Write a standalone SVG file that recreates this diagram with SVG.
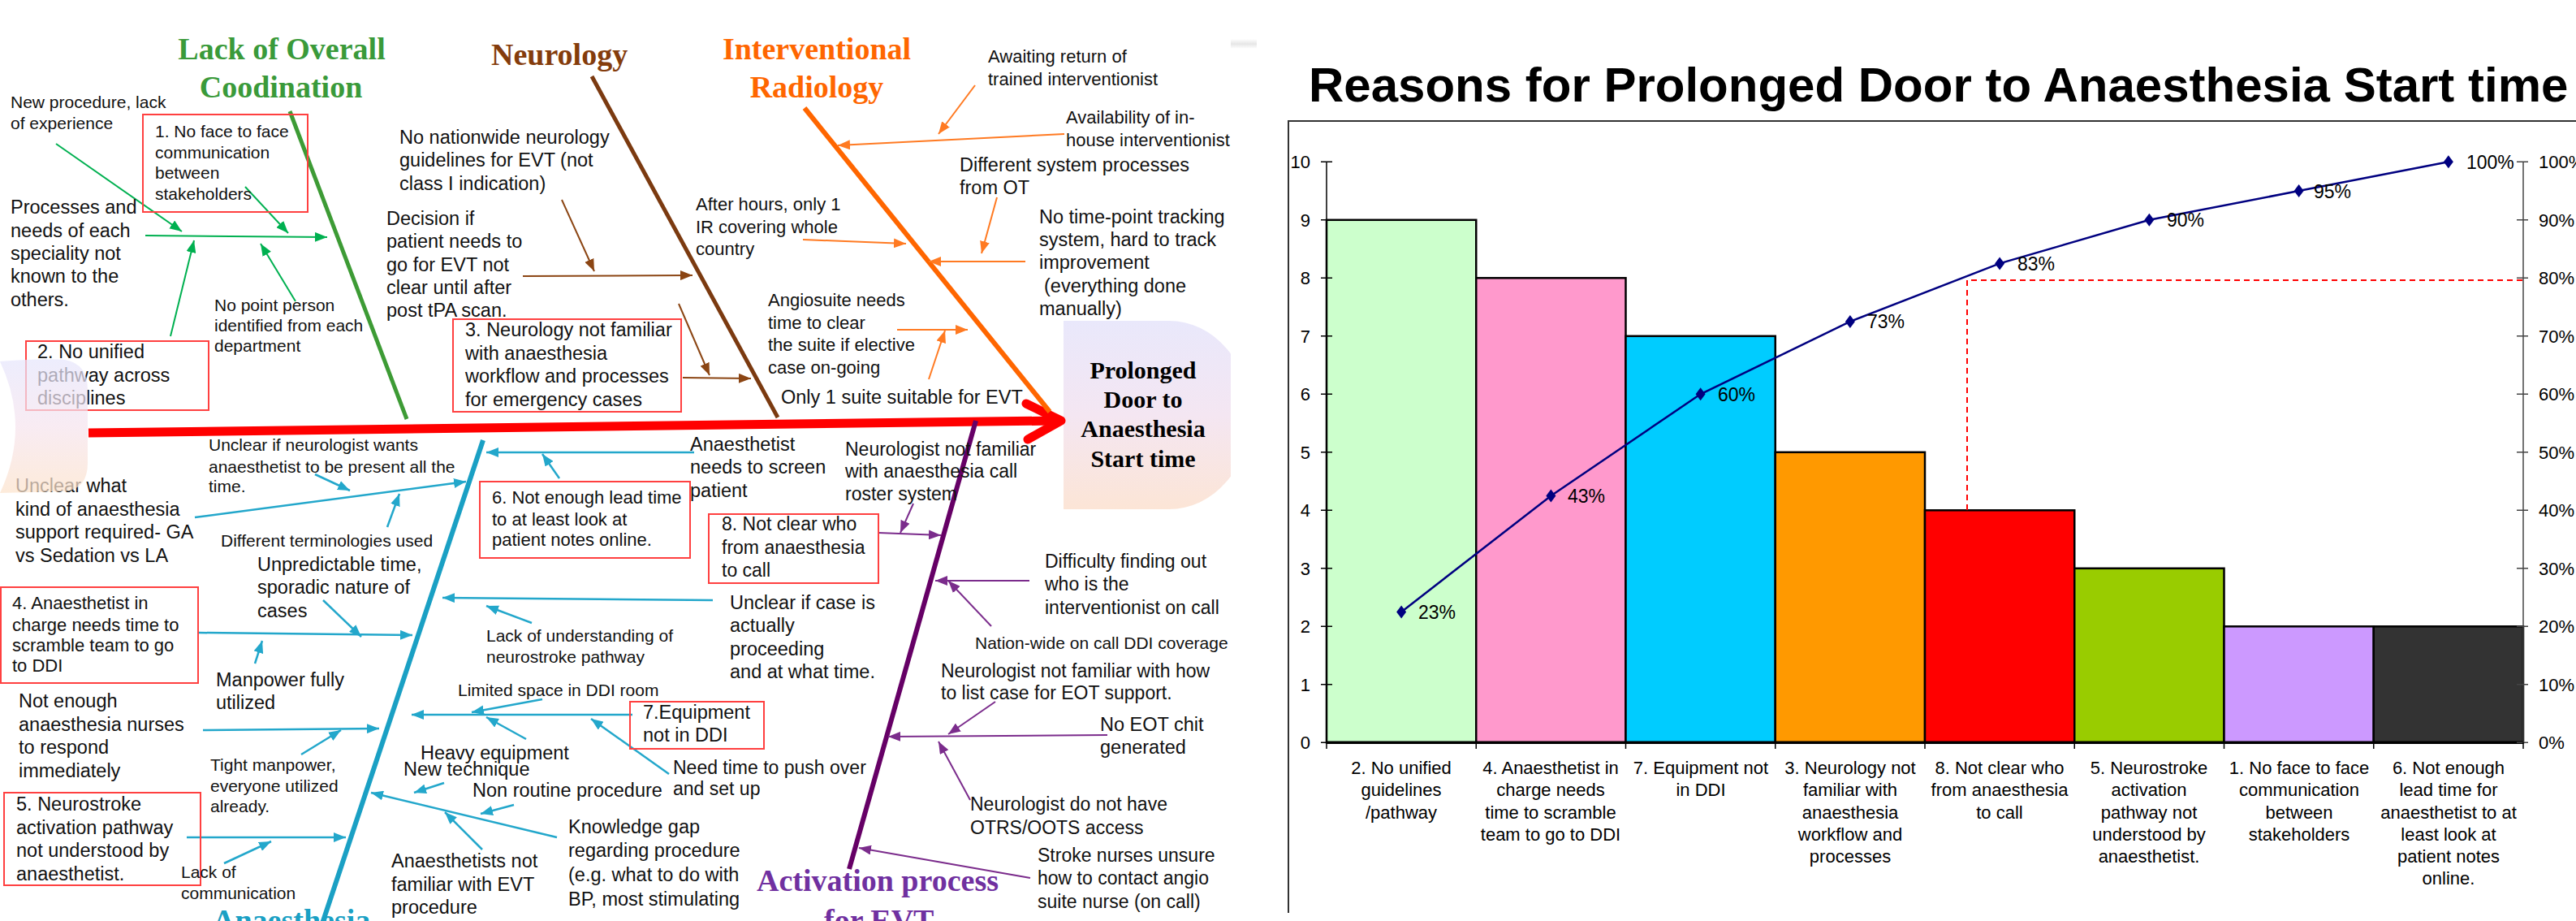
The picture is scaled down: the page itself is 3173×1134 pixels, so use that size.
<svg xmlns="http://www.w3.org/2000/svg" width="3173" height="1134" viewBox="0 0 3173 1134">
<style>
text{font-family:"Liberation Sans",Arial,sans-serif;fill:#111}
.s21{font-size:21px}.s22{font-size:22px}.s23{font-size:23px}.s24{font-size:23.5px}
.ttl{font-family:"Liberation Serif","Times New Roman",serif;font-weight:bold;font-size:38px}
.head{font-family:"Liberation Serif","Times New Roman",serif;font-weight:bold;font-size:30px;fill:#000;text-anchor:middle}
.box{fill:none;stroke:#FF4040;stroke-width:2}
.ag{stroke:#00B050;stroke-width:2;fill:none;marker-end:url(#mg)}
.ab{stroke:#8B4513;stroke-width:2;fill:none;marker-end:url(#mb)}
.ao{stroke:#FF7A22;stroke-width:2;fill:none;marker-end:url(#mo)}
.ac{stroke:#23A7CB;stroke-width:2.5;fill:none;marker-end:url(#mc)}
.ap{stroke:#7B2C8C;stroke-width:2;fill:none;marker-end:url(#mp)}
.bar{stroke:#000;stroke-width:2.5}
.ax{font-size:22px;fill:#000}
.cat{font-size:22px;fill:#000;text-anchor:middle}
.dl{font-size:23px;fill:#000}
</style>
<defs>
<marker id="mg" markerUnits="userSpaceOnUse" markerWidth="16" markerHeight="12" refX="15" refY="6" orient="auto"><path d="M0,0 L15,6 L0,12 Z" fill="#00B050"/></marker>
<marker id="mb" markerUnits="userSpaceOnUse" markerWidth="16" markerHeight="12" refX="15" refY="6" orient="auto"><path d="M0,0 L15,6 L0,12 Z" fill="#8B4513"/></marker>
<marker id="mo" markerUnits="userSpaceOnUse" markerWidth="16" markerHeight="12" refX="15" refY="6" orient="auto"><path d="M0,0 L15,6 L0,12 Z" fill="#FF7A22"/></marker>
<marker id="mc" markerUnits="userSpaceOnUse" markerWidth="16" markerHeight="12" refX="15" refY="6" orient="auto"><path d="M0,0 L15,6 L0,12 Z" fill="#23A7CB"/></marker>
<marker id="mp" markerUnits="userSpaceOnUse" markerWidth="16" markerHeight="12" refX="15" refY="6" orient="auto"><path d="M0,0 L15,6 L0,12 Z" fill="#7B2C8C"/></marker>
<linearGradient id="gHead" x1="0" y1="0" x2="0" y2="1"><stop offset="0" stop-color="#E9E8FB"/><stop offset="0.5" stop-color="#F4E6F2"/><stop offset="1" stop-color="#FCE5D6"/></linearGradient>
<linearGradient id="gTail" x1="0" y1="0" x2="0" y2="1"><stop offset="0" stop-color="#E6E6FC"/><stop offset="0.5" stop-color="#F6E4EE"/><stop offset="1" stop-color="#FCE3CC"/></linearGradient>
<linearGradient id="gShade" x1="0" y1="0" x2="0" y2="1"><stop offset="0" stop-color="#FFFFFF"/><stop offset="0.5" stop-color="#E6E6E6"/><stop offset="1" stop-color="#FFFFFF"/></linearGradient>
<clipPath id="fishClip"><rect x="0" y="0" width="1516" height="1134"/></clipPath>
</defs>
<rect x="0" y="0" width="3173" height="1134" fill="#FFFFFF"/>
<rect x="1516" y="48" width="32" height="12" fill="url(#gShade)"/>

<g id="fishbone" clip-path="url(#fishClip)">
  <g id="effect-head">
    <path d="M1310,395 H1440 A100 116 0 0 1 1440,627 H1310 Z" fill="url(#gHead)"/>
    <text class="head" x="1408" y="466">Prolonged</text>
    <text class="head" x="1408" y="502">Door to</text>
    <text class="head" x="1408" y="538">Anaesthesia</text>
    <text class="head" x="1408" y="575">Start time</text>
  </g>

  <g id="connectors">
    <line x1="109" y1="533" x2="1300" y2="518" stroke="#FF0000" stroke-width="11"/>
    <polyline points="1264,497 1307,518 1266,541" fill="none" stroke="#FF0000" stroke-width="11" stroke-linecap="round" stroke-linejoin="round"/>
    <line x1="357" y1="137" x2="501" y2="516" stroke="#3D9B35" stroke-width="5"/>
    <line x1="729" y1="94" x2="958" y2="514" stroke="#7B3A10" stroke-width="5"/>
    <line x1="991" y1="133" x2="1293" y2="507" stroke="#FF6600" stroke-width="6"/>
    <line x1="595" y1="542" x2="396" y2="1140" stroke="#1AA0C4" stroke-width="6"/>
    <line x1="1202" y1="518" x2="1046" y2="1070" stroke="#660066" stroke-width="6"/>
    <line class="ag" x1="179" y1="290" x2="403" y2="292"/>
    <line class="ag" x1="69" y1="177" x2="224" y2="285"/>
    <line class="ag" x1="302" y1="230" x2="355" y2="287"/>
    <line class="ag" x1="210" y1="414" x2="239" y2="296"/>
    <line class="ag" x1="364" y1="371" x2="321" y2="300"/>
    <line class="ab" x1="692" y1="246" x2="732" y2="334"/>
    <line class="ab" x1="644" y1="340" x2="853" y2="339"/>
    <line class="ab" x1="836" y1="374" x2="874" y2="462"/>
    <line class="ab" x1="841" y1="465" x2="925" y2="466"/>
    <line class="ao" x1="989" y1="295" x2="1116" y2="300"/>
    <line class="ao" x1="1201" y1="105" x2="1156" y2="165"/>
    <line class="ao" x1="1311" y1="165" x2="1032" y2="179"/>
    <line class="ao" x1="1228" y1="243" x2="1209" y2="312"/>
    <line class="ao" x1="1263" y1="322" x2="1144" y2="322"/>
    <line class="ao" x1="1105" y1="406" x2="1192" y2="406"/>
    <line class="ao" x1="1144" y1="467" x2="1164" y2="407"/>
    <line class="ac" x1="240" y1="637" x2="574" y2="593"/>
    <line class="ac" x1="388" y1="584" x2="431" y2="604"/>
    <line class="ac" x1="477" y1="649" x2="492" y2="608"/>
    <line class="ac" x1="398" y1="739" x2="445" y2="784"/>
    <line class="ac" x1="245" y1="779" x2="508" y2="782"/>
    <line class="ac" x1="314" y1="817" x2="323" y2="789"/>
    <line class="ac" x1="250" y1="899" x2="467" y2="897"/>
    <line class="ac" x1="371" y1="929" x2="420" y2="899"/>
    <line class="ac" x1="230" y1="1031" x2="426" y2="1031"/>
    <line class="ac" x1="276" y1="1063" x2="334" y2="1036"/>
    <line class="ac" x1="855" y1="557" x2="599" y2="557"/>
    <line class="ac" x1="689" y1="589" x2="668" y2="559"/>
    <line class="ac" x1="878" y1="739" x2="545" y2="736"/>
    <line class="ac" x1="655" y1="767" x2="599" y2="746"/>
    <line class="ac" x1="779" y1="880" x2="507" y2="880"/>
    <line class="ac" x1="668" y1="861" x2="581" y2="877"/>
    <line class="ac" x1="648" y1="910" x2="599" y2="883"/>
    <line class="ac" x1="824" y1="953" x2="728" y2="885"/>
    <line class="ac" x1="547" y1="964" x2="510" y2="976"/>
    <line class="ac" x1="633" y1="991" x2="592" y2="1002"/>
    <line class="ac" x1="686" y1="1031" x2="457" y2="976"/>
    <line class="ac" x1="594" y1="1046" x2="548" y2="1000"/>
    <line class="ap" x1="1125" y1="620" x2="1109" y2="656"/>
    <line class="ap" x1="1082" y1="656" x2="1159" y2="659"/>
    <line class="ap" x1="1268" y1="715" x2="1152" y2="715"/>
    <line class="ap" x1="1221" y1="771" x2="1168" y2="715"/>
    <line class="ap" x1="1226" y1="864" x2="1168" y2="904"/>
    <line class="ap" x1="1364" y1="905" x2="1094" y2="907"/>
    <line class="ap" x1="1195" y1="985" x2="1156" y2="913"/>
    <line class="ap" x1="1269" y1="1081" x2="1058" y2="1044"/>
  </g>

  <g id="cat-coordination">
    <text class="ttl" style="fill:#3A9A3A" text-anchor="middle" x="347" y="73">Lack of Overall</text>
    <text class="ttl" style="fill:#3A9A3A" text-anchor="middle" x="346" y="120">Coodination</text>
  </g>
  <g id="cat-neurology"><text class="ttl" style="fill:#843C0C" x="605" y="80">Neurology</text></g>
  <g id="cat-ir">
    <text class="ttl" style="fill:#FF6600" text-anchor="middle" x="1006" y="73">Interventional</text>
    <text class="ttl" style="fill:#FF6600" text-anchor="middle" x="1006" y="120">Radiology</text>
  </g>
  <g id="cat-anaesthesia"><text class="ttl" style="fill:#1AA0C4" x="262" y="1146">Anaesthesia</text></g>
  <g id="cat-activation">
    <text class="ttl" style="fill:#7030A0" x="932" y="1097">Activation process</text>
    <text class="ttl" style="fill:#7030A0" x="1015" y="1146">for EVT</text>
  </g>

  <g id="c-new-procedure"><text class="s21"><tspan x="13" y="133">New procedure, lack</tspan><tspan x="13" y="159">of experience</tspan></text></g>
  <g id="box-1"><rect class="box" x="176" y="141" width="203" height="120"/>
    <text class="s21"><tspan x="191" y="169">1. No face to face</tspan><tspan x="191" y="195">communication</tspan><tspan x="191" y="220">between</tspan><tspan x="191" y="246">stakeholders</tspan></text></g>
  <g id="c-processes"><text class="s24"><tspan x="13" y="263">Processes and</tspan><tspan x="13" y="292">needs of each</tspan><tspan x="13" y="320">speciality not</tspan><tspan x="13" y="348">known to the</tspan><tspan x="13" y="377">others.</tspan></text></g>
  <g id="c-no-point-person"><text class="s21"><tspan x="264" y="383">No point person</tspan><tspan x="264" y="408">identified from each</tspan><tspan x="264" y="433">department</tspan></text></g>
  <g id="box-2"><rect class="box" x="32" y="420" width="225" height="85"/>
    <text class="s24"><tspan x="46" y="441">2. No unified</tspan><tspan x="46" y="470">pathway across</tspan><tspan x="46" y="498">disciplines</tspan></text></g>

  <g id="c-guidelines"><text class="s24"><tspan x="492" y="177">No nationwide neurology</tspan><tspan x="492" y="205">guidelines for EVT (not</tspan><tspan x="492" y="234">class I indication)</tspan></text></g>
  <g id="c-decision"><text class="s24"><tspan x="476" y="277">Decision if</tspan><tspan x="476" y="305">patient needs to</tspan><tspan x="476" y="334">go for EVT not</tspan><tspan x="476" y="362">clear until after</tspan><tspan x="476" y="390">post tPA scan.</tspan></text></g>
  <g id="box-3"><rect class="box" x="558" y="393" width="281" height="114"/>
    <text class="s24"><tspan x="573" y="414">3. Neurology not familiar</tspan><tspan x="573" y="443">with anaesthesia</tspan><tspan x="573" y="471">workflow and processes</tspan><tspan x="573" y="500">for emergency cases</tspan></text></g>

  <g id="c-after-hours"><text class="s22"><tspan x="857" y="259">After hours, only 1</tspan><tspan x="857" y="287">IR covering whole</tspan><tspan x="857" y="314">country</tspan></text></g>
  <g id="c-awaiting"><text class="s22"><tspan x="1217" y="77">Awaiting return of</tspan><tspan x="1217" y="105">trained interventionist</tspan></text></g>
  <g id="c-availability"><text class="s22"><tspan x="1313" y="152">Availability of in-</tspan><tspan x="1313" y="180">house interventionist</tspan></text></g>
  <g id="c-different-system"><text class="s24"><tspan x="1182" y="211">Different system processes</tspan><tspan x="1182" y="239">from OT</tspan></text></g>
  <g id="c-tracking"><text class="s24"><tspan x="1280" y="275">No time-point tracking</tspan><tspan x="1280" y="303">system, hard to track</tspan><tspan x="1280" y="331">improvement</tspan><tspan x="1286" y="360">(everything done</tspan><tspan x="1280" y="388">manually)</tspan></text></g>
  <g id="c-angiosuite"><text class="s22"><tspan x="946" y="377">Angiosuite needs</tspan><tspan x="946" y="405">time to clear</tspan><tspan x="946" y="432">the suite if elective</tspan><tspan x="946" y="460">case on-going</tspan></text></g>
  <g id="c-only-one-suite"><text class="s24" x="962" y="497">Only 1 suite suitable for EVT</text></g>

  <g id="c-unclear-neuro"><text class="s21"><tspan x="257" y="555">Unclear if neurologist wants</tspan><tspan x="257" y="582">anaesthetist to be present all the</tspan><tspan x="257" y="606">time.</tspan></text></g>
  <g id="c-unclear-what"><text class="s24"><tspan x="19" y="606">Unclear what</tspan><tspan x="19" y="635">kind of anaesthesia</tspan><tspan x="19" y="663">support required- GA</tspan><tspan x="19" y="692">vs Sedation vs LA</tspan></text></g>
  <g id="c-terminologies"><text class="s21" x="272" y="673">Different terminologies used</text></g>
  <g id="c-unpredictable"><text class="s24"><tspan x="317" y="703">Unpredictable time,</tspan><tspan x="317" y="731">sporadic nature of</tspan><tspan x="317" y="760">cases</tspan></text></g>
  <g id="box-4"><rect class="box" x="1" y="723" width="243" height="118"/>
    <text class="s22"><tspan x="15" y="750">4. Anaesthetist in</tspan><tspan x="15" y="777">charge needs time to</tspan><tspan x="15" y="802">scramble team to go</tspan><tspan x="15" y="827">to DDI</tspan></text></g>
  <g id="c-manpower"><text class="s24"><tspan x="266" y="845">Manpower fully</tspan><tspan x="266" y="873">utilized</tspan></text></g>
  <g id="c-nurses"><text class="s24"><tspan x="23" y="871">Not enough</tspan><tspan x="23" y="900">anaesthesia nurses</tspan><tspan x="23" y="928">to respond</tspan><tspan x="23" y="957">immediately</tspan></text></g>
  <g id="c-tight"><text class="s21"><tspan x="259" y="949">Tight manpower,</tspan><tspan x="259" y="975">everyone utilized</tspan><tspan x="259" y="1000">already.</tspan></text></g>
  <g id="box-5"><rect class="box" x="5" y="976" width="242" height="114"/>
    <text class="s24"><tspan x="20" y="998">5. Neurostroke</tspan><tspan x="20" y="1027">activation pathway</tspan><tspan x="20" y="1055">not understood by</tspan><tspan x="20" y="1084">anaesthetist.</tspan></text></g>
  <g id="c-lack-comm"><text class="s21"><tspan x="223" y="1081">Lack of</tspan><tspan x="223" y="1107">communication</tspan></text></g>
  <g id="c-screen"><text class="s24"><tspan x="850" y="555">Anaesthetist</tspan><tspan x="850" y="583">needs to screen</tspan><tspan x="850" y="612">patient</tspan></text></g>
  <g id="box-6"><rect class="box" x="591" y="593" width="259" height="94"/>
    <text class="s22"><tspan x="606" y="620">6. Not enough lead time</tspan><tspan x="606" y="647">to at least look at</tspan><tspan x="606" y="672">patient notes online.</tspan></text></g>
  <g id="box-8"><rect class="box" x="873" y="633" width="209" height="85"/>
    <text class="s23"><tspan x="889" y="653">8. Not clear who</tspan><tspan x="889" y="682">from anaesthesia</tspan><tspan x="889" y="710">to call</tspan></text></g>
  <g id="c-unclear-case"><text class="s24"><tspan x="899" y="750">Unclear if case is</tspan><tspan x="899" y="778">actually</tspan><tspan x="899" y="807">proceeding</tspan><tspan x="899" y="835">and at what time.</tspan></text></g>
  <g id="c-understanding"><text class="s21"><tspan x="599" y="790">Lack of understanding of</tspan><tspan x="599" y="816">neurostroke pathway</tspan></text></g>
  <g id="c-limited-space"><text class="s21" x="564" y="857">Limited space in DDI room</text></g>
  <g id="box-7"><rect class="box" x="776" y="864" width="165" height="58"/>
    <text class="s24"><tspan x="792" y="885">7.Equipment</tspan><tspan x="792" y="913">not in DDI</tspan></text></g>
  <g id="c-heavy"><text class="s24" x="518" y="935">Heavy equipment</text></g>
  <g id="c-new-tech"><text class="s24" x="497" y="955">New technique</text></g>
  <g id="c-push-over"><text class="s23"><tspan x="829" y="953">Need time to push over</tspan><tspan x="829" y="979">and set up</tspan></text></g>
  <g id="c-non-routine"><text class="s24" x="582" y="981">Non routine procedure</text></g>
  <g id="c-not-familiar-evt"><text class="s24"><tspan x="482" y="1068">Anaesthetists not</tspan><tspan x="482" y="1097">familiar with EVT</tspan><tspan x="482" y="1125">procedure</tspan></text></g>
  <g id="c-knowledge"><text class="s24"><tspan x="700" y="1026">Knowledge gap</tspan><tspan x="700" y="1055">regarding procedure</tspan><tspan x="700" y="1085">(e.g. what to do with</tspan><tspan x="700" y="1115">BP, most stimulating</tspan></text></g>

  <g id="c-roster"><text class="s23"><tspan x="1041" y="561">Neurologist not familiar</tspan><tspan x="1041" y="588">with anaesthesia call</tspan><tspan x="1041" y="616">roster system</tspan></text></g>
  <g id="c-difficulty"><text class="s23"><tspan x="1287" y="699">Difficulty finding out</tspan><tspan x="1287" y="727">who is the</tspan><tspan x="1287" y="756">interventionist on call</tspan></text></g>
  <g id="c-nationwide"><text class="s21" x="1201" y="799">Nation-wide on call DDI coverage</text></g>
  <g id="c-eot-list"><text class="s23"><tspan x="1159" y="834">Neurologist not familiar with how</tspan><tspan x="1159" y="861">to list case for EOT support.</tspan></text></g>
  <g id="c-eot-chit"><text class="s24"><tspan x="1355" y="900">No EOT chit</tspan><tspan x="1355" y="928">generated</tspan></text></g>
  <g id="c-otrs"><text class="s23"><tspan x="1195" y="998">Neurologist do not have</tspan><tspan x="1195" y="1027">OTRS/OOTS access</tspan></text></g>
  <g id="c-stroke-nurses"><text class="s23"><tspan x="1278" y="1061">Stroke nurses unsure</tspan><tspan x="1278" y="1089">how to contact angio</tspan><tspan x="1278" y="1118">suite nurse (on call)</tspan></text></g>

  <g id="tail"><path d="M0,445 Q55,441 80,443 Q108,448 108,480 V570 Q108,602 80,605 L0,607 Q38,526 0,445 Z" fill="url(#gTail)" opacity="0.72"/></g>
</g>

<g id="pareto-chart">
  <text x="1612" y="125" style="font-family:'Liberation Sans',Arial,sans-serif;font-weight:bold;font-size:60px;fill:#000">Reasons for Prolonged Door to Anaesthesia Start time</text>
  <path d="M1587,1124 V149 H3173" fill="none" stroke="#333" stroke-width="2"/>
  <g id="bars">
    <rect class="bar" x="1634" y="270.8" width="184.25" height="643.5" fill="#CCFFCC"/>
    <rect class="bar" x="1818.25" y="342.3" width="184.25" height="572" fill="#FF99CC"/>
    <rect class="bar" x="2002.5" y="413.8" width="184.25" height="500.5" fill="#00CCFF"/>
    <rect class="bar" x="2186.75" y="556.8" width="184.25" height="357.5" fill="#FF9900"/>
    <rect class="bar" x="2371" y="628.3" width="184.25" height="286" fill="#FF0000"/>
    <rect class="bar" x="2555.25" y="699.8" width="184.25" height="214.5" fill="#99CC00"/>
    <rect class="bar" x="2739.5" y="771.3" width="184.25" height="143" fill="#CC99FF"/>
    <rect class="bar" x="2923.75" y="771.3" width="184.25" height="143" fill="#333333"/>
  </g>
  <g id="axes" stroke="#000" stroke-width="1.5">
    <line x1="1634" y1="199.3" x2="1634" y2="914.3"/>
    <line x1="3108" y1="199.3" x2="3108" y2="914.3" stroke="#444"/>
    <line x1="1634" y1="914.3" x2="3108" y2="914.3" stroke-width="3.5"/>
    <path d="M1627,199.3H1641M1627,270.8H1641M1627,342.3H1641M1627,413.8H1641M1627,485.3H1641M1627,556.8H1641M1627,628.3H1641M1627,699.8H1641M1627,771.3H1641M1627,842.8H1641M1627,914.3H1641"/>
    <path d="M3100,199.3H3114M3100,270.8H3114M3100,342.3H3114M3100,413.8H3114M3100,485.3H3114M3100,556.8H3114M3100,628.3H3114M3100,699.8H3114M3100,771.3H3114M3100,842.8H3114M3100,914.3H3114" stroke="#444"/>
    <path d="M1634,914V922M1818.25,914V922M2002.5,914V922M2186.75,914V922M2371,914V922M2555.25,914V922M2739.5,914V922M2923.75,914V922M3108,914V922"/>
  </g>
  <g id="left-axis-labels">
    <text class="ax" text-anchor="end" x="1614" y="207">10</text>
    <text class="ax" text-anchor="end" x="1614" y="279">9</text>
    <text class="ax" text-anchor="end" x="1614" y="350">8</text>
    <text class="ax" text-anchor="end" x="1614" y="422">7</text>
    <text class="ax" text-anchor="end" x="1614" y="493">6</text>
    <text class="ax" text-anchor="end" x="1614" y="565">5</text>
    <text class="ax" text-anchor="end" x="1614" y="636">4</text>
    <text class="ax" text-anchor="end" x="1614" y="708">3</text>
    <text class="ax" text-anchor="end" x="1614" y="779">2</text>
    <text class="ax" text-anchor="end" x="1614" y="851">1</text>
    <text class="ax" text-anchor="end" x="1614" y="922">0</text>
  </g>
  <g id="right-axis-labels">
    <text class="ax" x="3127" y="207">100%</text>
    <text class="ax" x="3127" y="279">90%</text>
    <text class="ax" x="3127" y="350">80%</text>
    <text class="ax" x="3127" y="422">70%</text>
    <text class="ax" x="3127" y="493">60%</text>
    <text class="ax" x="3127" y="565">50%</text>
    <text class="ax" x="3127" y="636">40%</text>
    <text class="ax" x="3127" y="708">30%</text>
    <text class="ax" x="3127" y="779">20%</text>
    <text class="ax" x="3127" y="851">10%</text>
    <text class="ax" x="3127" y="922">0%</text>
  </g>
  <g id="threshold" fill="none" stroke="#FF0000" stroke-width="2" stroke-dasharray="7,5">
    <path d="M2423,628 V345 H3107"/>
  </g>
  <g id="cumulative-line">
    <polyline points="1726.1,753.4 1910.4,610.4 2094.6,485.3 2278.9,395.9 2463.1,324.4 2647.4,270.8 2831.6,235.1 3015.9,199.3" fill="none" stroke="#000080" stroke-width="2.5"/>
    <g fill="#000080">
      <path d="M1726.1,745.4 l6,8 -6,8 -6,-8 z"/>
      <path d="M1910.4,602.4 l6,8 -6,8 -6,-8 z"/>
      <path d="M2094.6,477.3 l6,8 -6,8 -6,-8 z"/>
      <path d="M2278.9,387.9 l6,8 -6,8 -6,-8 z"/>
      <path d="M2463.1,316.4 l6,8 -6,8 -6,-8 z"/>
      <path d="M2647.4,262.8 l6,8 -6,8 -6,-8 z"/>
      <path d="M2831.6,227.1 l6,8 -6,8 -6,-8 z"/>
      <path d="M3015.9,191.3 l6,8 -6,8 -6,-8 z"/>
    </g>
    <text class="dl" x="1747" y="762">23%</text>
    <text class="dl" x="1931" y="619">43%</text>
    <text class="dl" x="2116" y="494">60%</text>
    <text class="dl" x="2300" y="404">73%</text>
    <text class="dl" x="2485" y="333">83%</text>
    <text class="dl" x="2669" y="279">90%</text>
    <text class="dl" x="2850" y="244">95%</text>
    <text class="dl" x="3038" y="208">100%</text>
  </g>
  <g id="category-labels">
    <text class="cat"><tspan x="1726" y="953">2. No unified</tspan><tspan x="1726" y="980">guidelines</tspan><tspan x="1726" y="1008">/pathway</tspan></text>
    <text class="cat"><tspan x="1910" y="953">4. Anaesthetist in</tspan><tspan x="1910" y="980">charge needs</tspan><tspan x="1910" y="1008">time to scramble</tspan><tspan x="1910" y="1035">team to go to DDI</tspan></text>
    <text class="cat"><tspan x="2095" y="953">7. Equipment not</tspan><tspan x="2095" y="980">in DDI</tspan></text>
    <text class="cat"><tspan x="2279" y="953">3. Neurology not</tspan><tspan x="2279" y="980">familiar with</tspan><tspan x="2279" y="1008">anaesthesia</tspan><tspan x="2279" y="1035">workflow and</tspan><tspan x="2279" y="1062">processes</tspan></text>
    <text class="cat"><tspan x="2463" y="953">8. Not clear who</tspan><tspan x="2463" y="980">from anaesthesia</tspan><tspan x="2463" y="1008">to call</tspan></text>
    <text class="cat"><tspan x="2647" y="953">5. Neurostroke</tspan><tspan x="2647" y="980">activation</tspan><tspan x="2647" y="1008">pathway not</tspan><tspan x="2647" y="1035">understood by</tspan><tspan x="2647" y="1062">anaesthetist.</tspan></text>
    <text class="cat"><tspan x="2832" y="953">1. No face to face</tspan><tspan x="2832" y="980">communication</tspan><tspan x="2832" y="1008">between</tspan><tspan x="2832" y="1035">stakeholders</tspan></text>
    <text class="cat"><tspan x="3016" y="953">6. Not enough</tspan><tspan x="3016" y="980">lead time for</tspan><tspan x="3016" y="1008">anaesthetist to at</tspan><tspan x="3016" y="1035">least look at</tspan><tspan x="3016" y="1062">patient notes</tspan><tspan x="3016" y="1089">online.</tspan></text>
  </g>
</g>
</svg>
